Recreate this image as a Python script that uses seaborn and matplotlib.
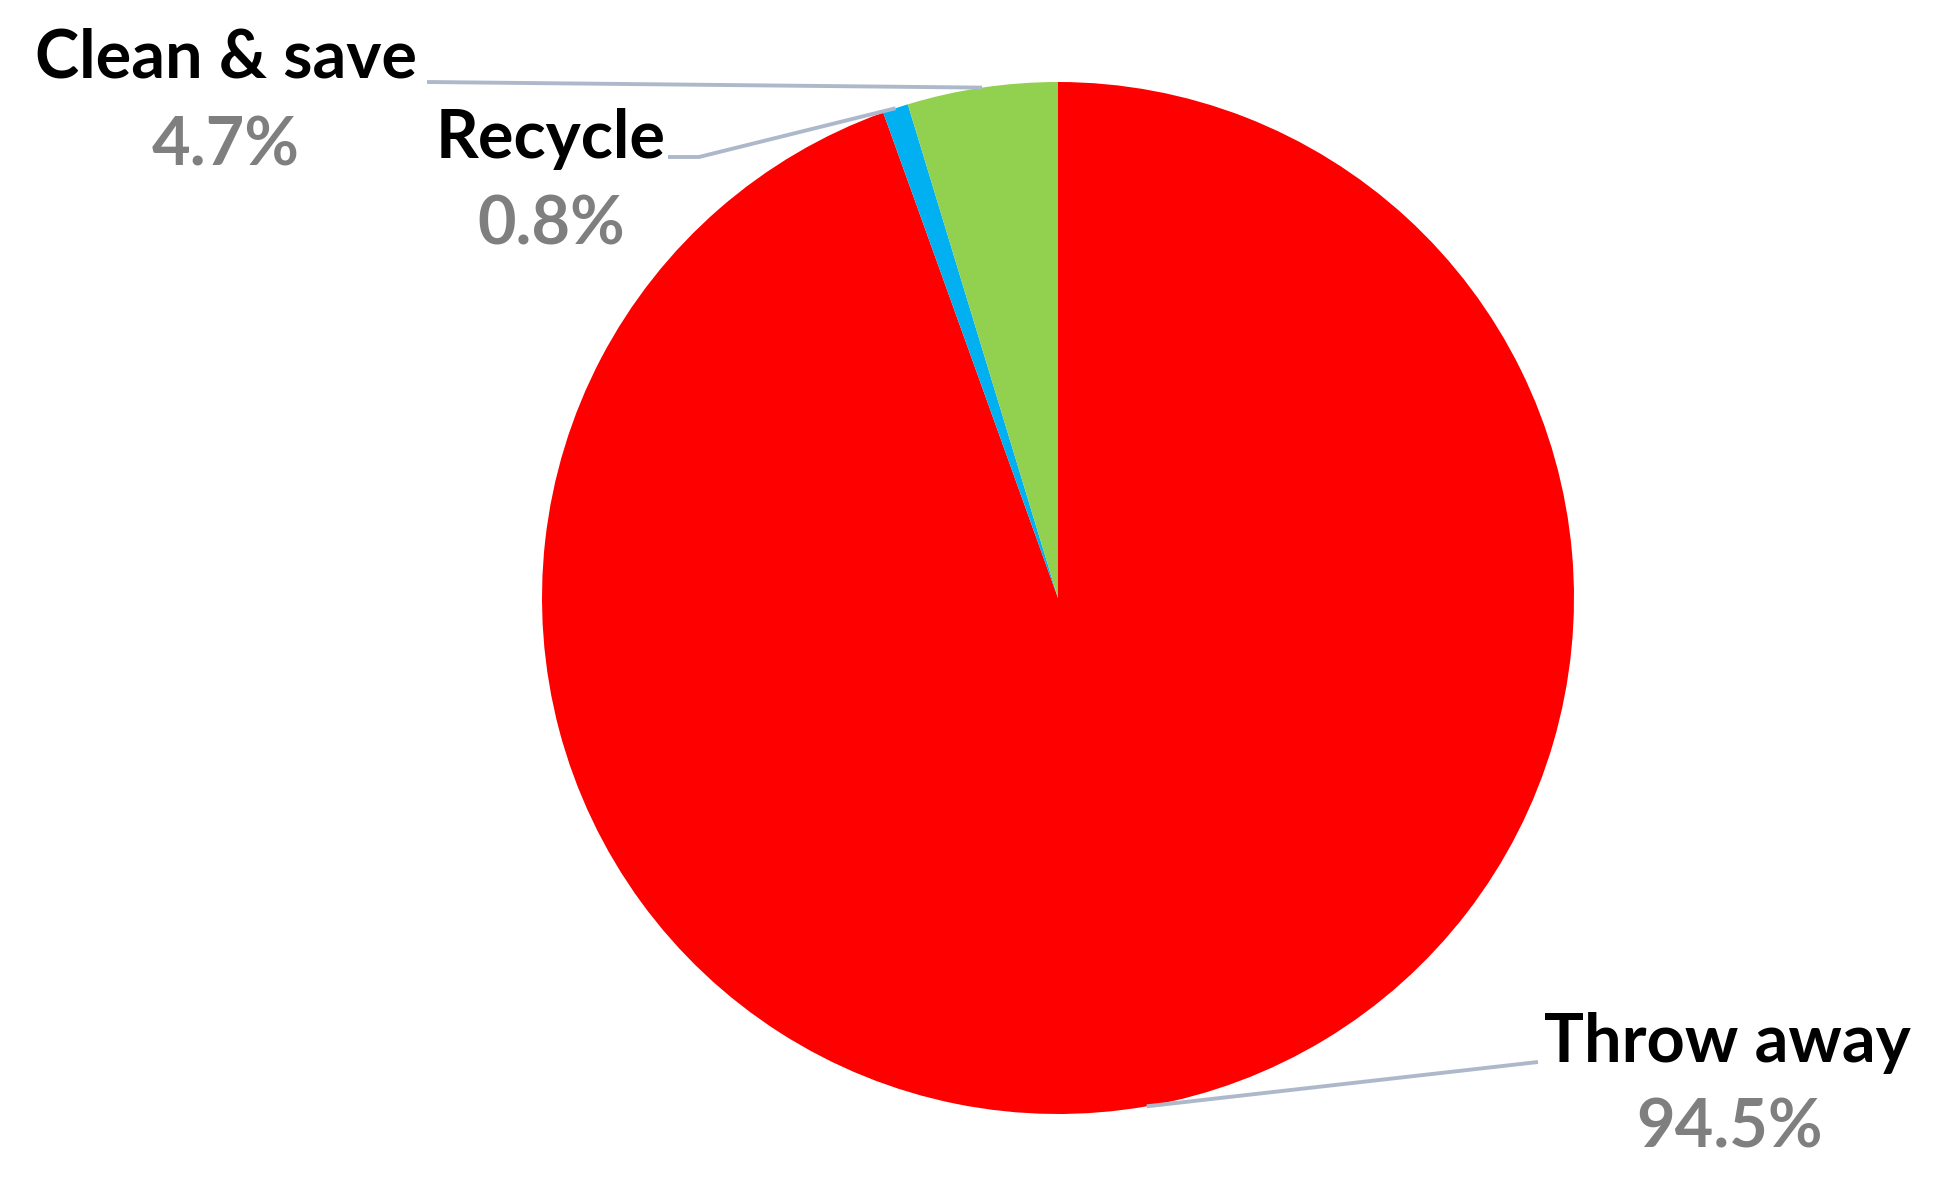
import numpy as np
import seaborn as sns
import matplotlib.pyplot as plt

# values
labels = ["Throw away", "Recycle", "Clean & save"]
shares = [94.5, 0.8, 4.7]
colors = ["#FF0000", "#00B0F0", "#92D050"]

sns.set_style("white")
plt.rcParams['font.family'] = ['Lato', 'DejaVu Sans']

W, H = 1940, 1181
fig = plt.figure(figsize=(W / 100, H / 100), dpi=100)
ax = fig.add_axes([0, 0, 1, 1])

cx, cy, r = 1058, H - 598, 516
wedges, _ = ax.pie(shares, colors=colors, startangle=90, counterclock=False,
                   center=(cx, cy), radius=r, frame=True,
                   wedgeprops=dict(linewidth=0))
ax.set_xlim(0, W)
ax.set_ylim(0, H)
ax.axis("off")

# label layout (pixel positions from top-left) and leader start points
name_pos = {"Clean & save": (226, 58), "Recycle": (551, 139), "Throw away": (1727, 1043)}
pct_pos = {"Clean & save": (226, 146), "Recycle": (551, 225), "Throw away": (1730, 1128)}
line_start = {"Clean & save": [(427, 82)],
              "Recycle": [(668, 157), (699, 157)],
              "Throw away": [(1538, 1062)]}

line_col = "#ADB9CA"
for w, lab, s in zip(wedges, labels, shares):
    mid = np.deg2rad((w.theta1 + w.theta2) / 2)
    ex, ey = cx + r * np.cos(mid), cy + r * np.sin(mid)
    pts = [(x, H - y) for x, y in line_start[lab]] + [(ex, ey)]
    xs, ys = zip(*pts)
    ax.plot(xs, ys, color=line_col, lw=2.8, solid_capstyle="butt", zorder=1)
    nx, ny = name_pos[lab]
    ax.text(nx, H - ny, lab, ha="center", va="center", fontsize=48,
            fontweight="bold", color="black")
    px, py = pct_pos[lab]
    ax.text(px, H - py, f"{s:.1f}%", ha="center", va="center", fontsize=48,
            fontweight="bold", color="#7F7F7F")

fig.savefig("out.png", dpi=100)
